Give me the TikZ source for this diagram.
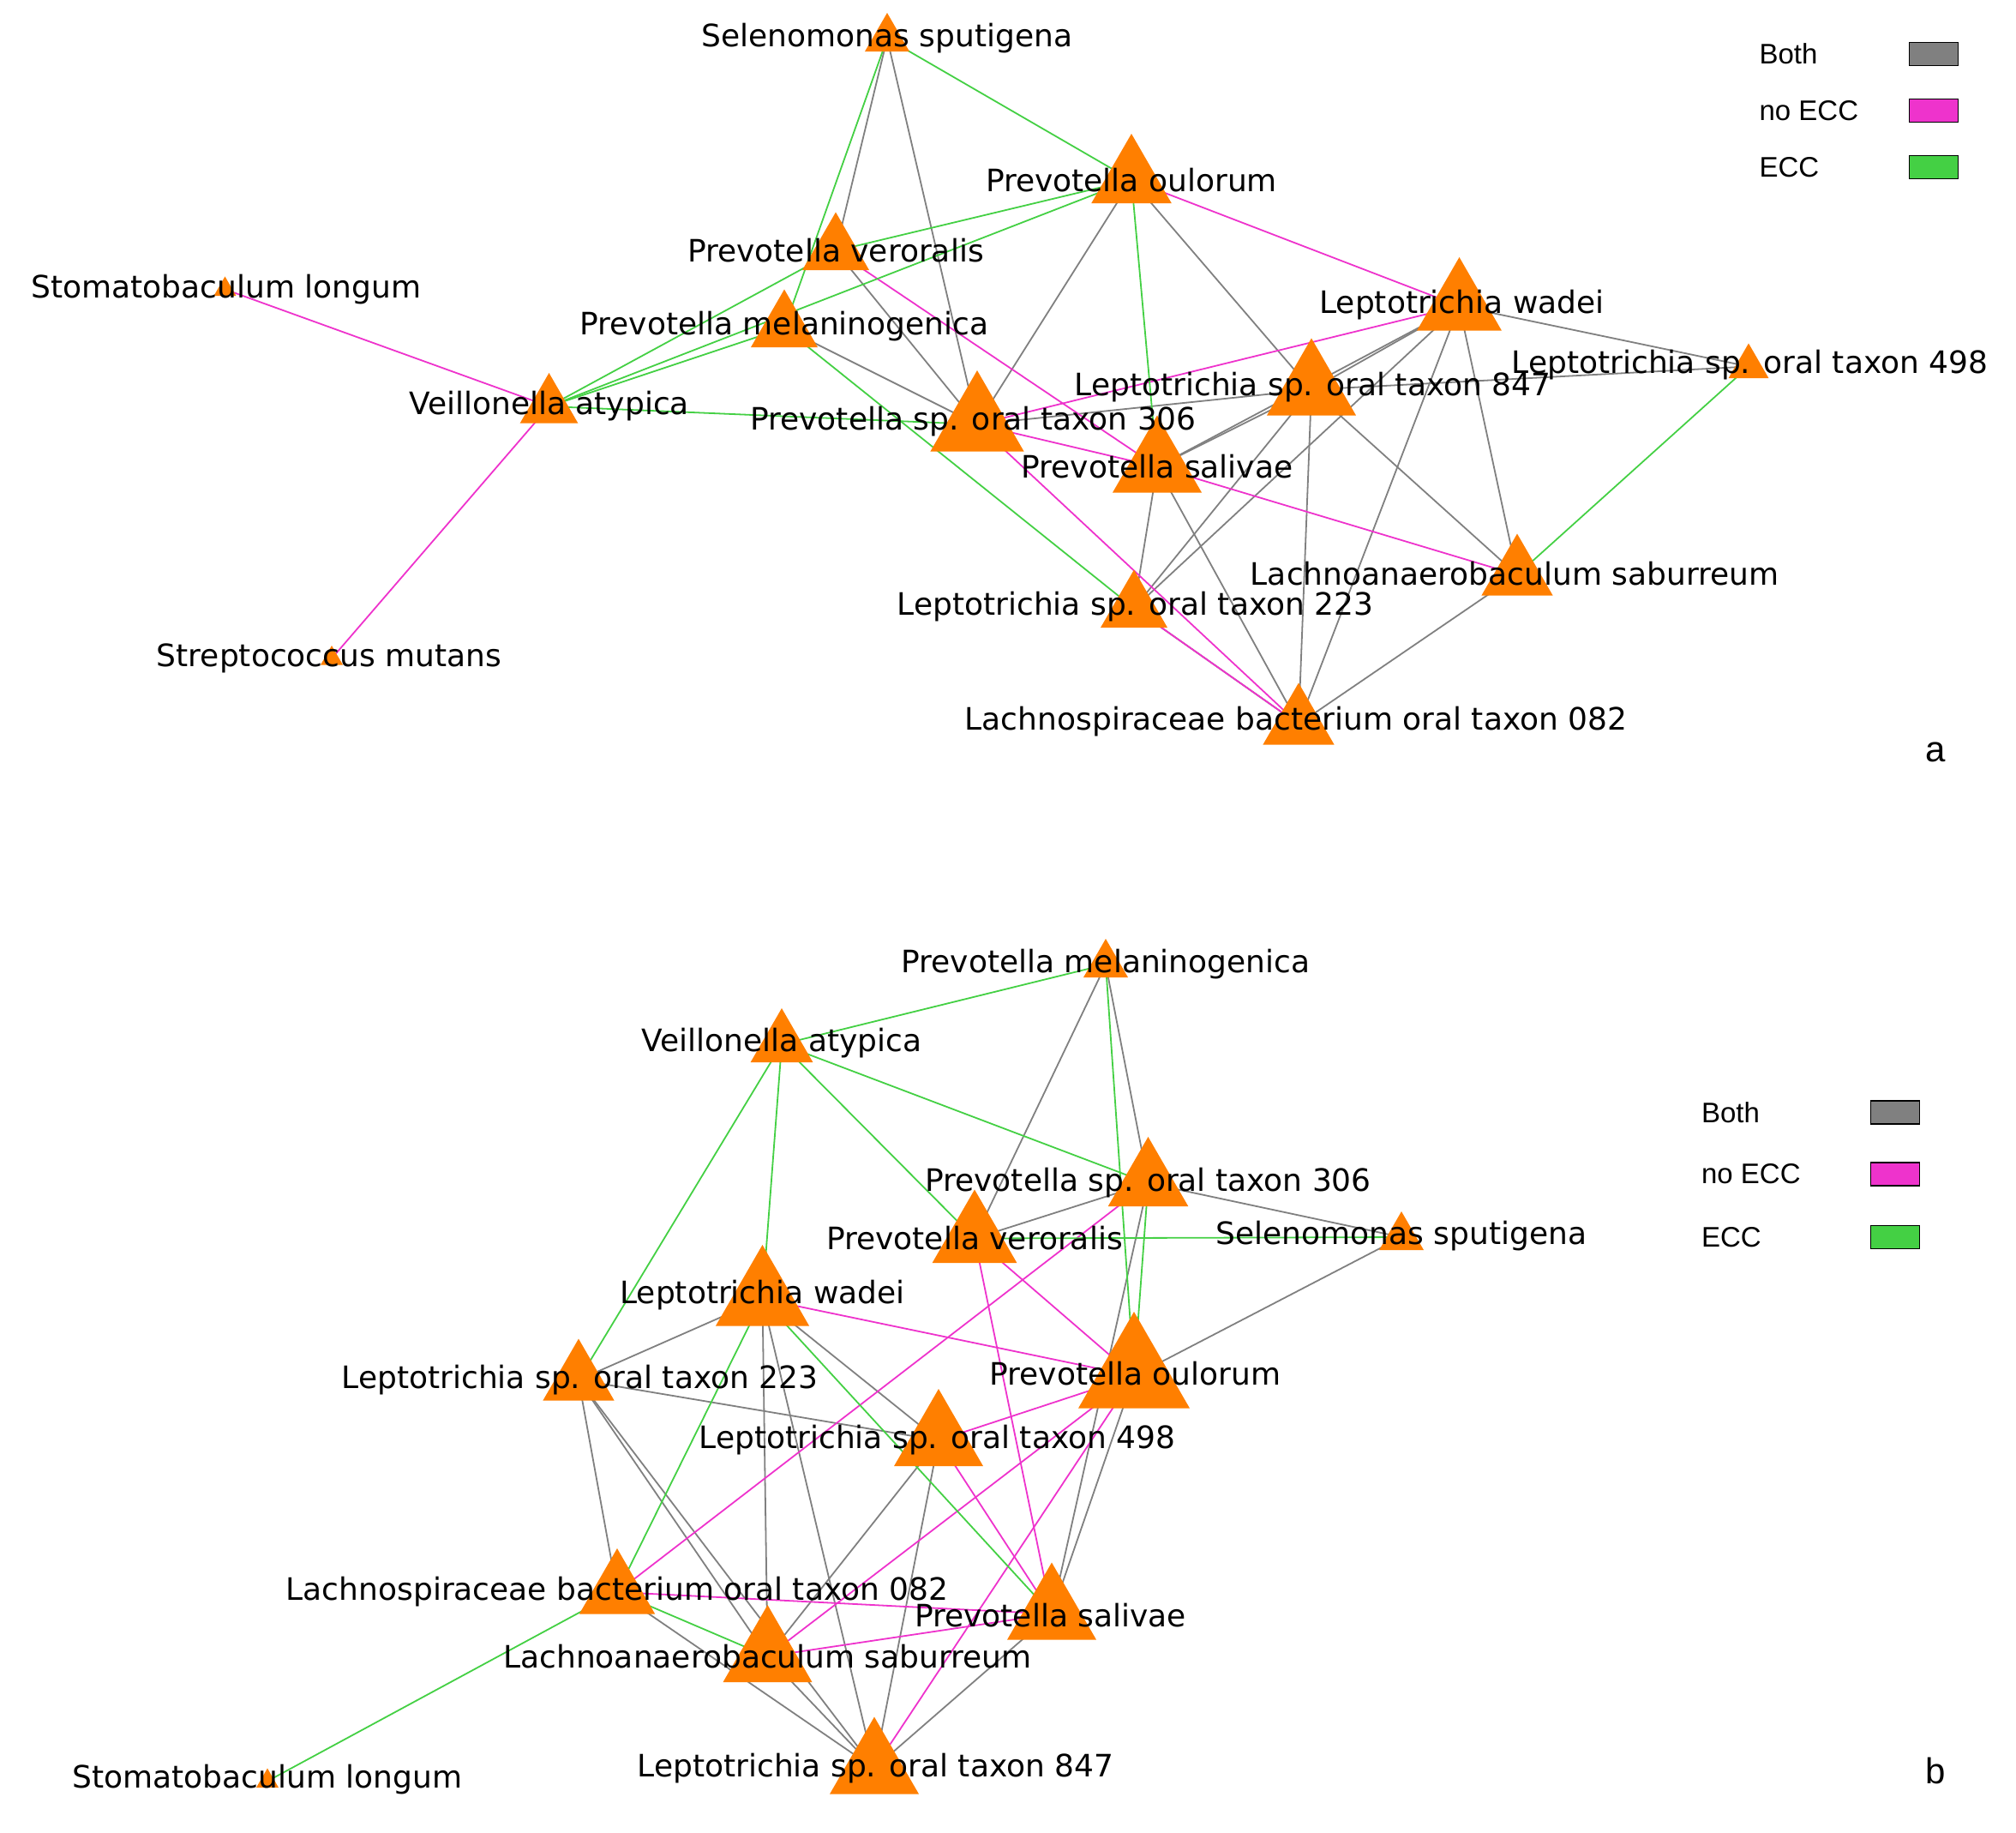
\documentclass[tikz,border=0pt]{standalone}
\usepackage{fontspec}
\setmainfont{DejaVu Sans}
\newfontfamily\legfont{Liberation Sans}
\usetikzlibrary{shapes.geometric}
\definecolor{eg}{HTML}{808080}
\definecolor{em}{HTML}{EE33CC}
\definecolor{ec}{HTML}{44D044}
\definecolor{tri}{HTML}{FF7F00}
\begin{document}
\begin{tikzpicture}[x=0.5pt,y=-0.5pt,
  gr/.style={draw=eg,line width=0.6pt},
  mg/.style={draw=em,line width=0.6pt},
  gn/.style={draw=ec,line width=0.6pt},
  tr/.style={regular polygon,regular polygon sides=3,fill=tri,inner sep=0pt,minimum size=#1},
  lab/.style={font=\fontsize{12}{14}\selectfont,inner sep=0pt},
  leg/.style={font=\legfont\fontsize{11}{13}\selectfont,anchor=west,inner sep=0pt},
  lbox/.style={draw=black,line width=0.5pt,minimum width=19pt,minimum height=9pt,inner sep=0pt}]
\useasboundingbox (0,0) rectangle (1568,1425);
% panel a coordinates
\coordinate (aSel) at (690,30);
\coordinate (aPoul) at (880,140);
\coordinate (aPver) at (650,195);
\coordinate (aPmel) at (610,255);
\coordinate (aSl) at (175,225);
\coordinate (aVa) at (427,316);
\coordinate (aP306) at (760,330);
\coordinate (aLw) at (1135,238);
\coordinate (aL498) at (1360,285);
\coordinate (aL847) at (1020,303);
\coordinate (aPsal) at (900,363);
\coordinate (aLsab) at (1180,447);
\coordinate (aL223) at (882,473);
\coordinate (aL082) at (1010,563);
\coordinate (aSm) at (258,512);
% panel b coordinates
\coordinate (bPmel) at (860,750);
\coordinate (bVa) at (608,812);
\coordinate (bP306) at (893,920);
\coordinate (bSel) at (1090,962);
\coordinate (bPver) at (758,963);
\coordinate (bLw) at (593,1010);
\coordinate (bPoul) at (882,1070);
\coordinate (bL223) at (450,1073);
\coordinate (bL498) at (730,1120);
\coordinate (bL082) at (480,1238);
\coordinate (bPsal) at (818,1255);
\coordinate (bLsab) at (597,1288);
\coordinate (bL847) at (680,1375);
\coordinate (bSl) at (208,1385);
% edges a
\foreach \u/\v in {aSel/aPver,aSel/aP306,aPoul/aP306,aPver/aP306,aPmel/aP306,aPoul/aL847,aP306/aL847,aLw/aL498,aLw/aL847,aLw/aPsal,aLw/aLsab,aLw/aL082,aLw/aL223,aL847/aL498,aL847/aPsal,aL847/aLsab,aL847/aL223,aL847/aL082,aPsal/aL223,aL223/aL082,aLsab/aL082,aPsal/aL082}
  \draw[gr] (\u) -- (\v);
\foreach \u/\v in {aSl/aVa,aVa/aSm,aPoul/aLw,aPver/aPsal,aP306/aLw,aP306/aPsal,aP306/aL082,aPsal/aLsab,aL223/aL082}
  \draw[mg] (\u) -- (\v);
\foreach \u/\v in {aSel/aPoul,aSel/aPmel,aPoul/aPver,aPoul/aVa,aPoul/aPsal,aPver/aVa,aPmel/aVa,aPmel/aL223,aVa/aP306,aL498/aLsab}
  \draw[gn] (\u) -- (\v);
% edges b
\foreach \u/\v in {bPmel/bPver,bPmel/bP306,bP306/bPver,bP306/bSel,bP306/bPsal,bSel/bPoul,bLw/bL223,bLw/bL498,bLw/bLsab,bLw/bL847,bL223/bL498,bL223/bL082,bL223/bLsab,bL223/bL847,bPoul/bPsal,bL498/bLsab,bL498/bL847,bL082/bL847,bPsal/bL847,bLsab/bL847}
  \draw[gr] (\u) -- (\v);
\foreach \u/\v in {bP306/bL082,bPver/bPoul,bPver/bPsal,bLw/bPoul,bPoul/bL498,bPoul/bL847,bPoul/bLsab,bL498/bPsal,bL082/bPsal,bPsal/bLsab}
  \draw[mg] (\u) -- (\v);
\foreach \u/\v in {bPmel/bVa,bPmel/bPoul,bVa/bP306,bVa/bPver,bVa/bLw,bVa/bL223,bP306/bPoul,bPver/bSel,bLw/bPsal,bLw/bL082,bL082/bLsab,bL082/bSl}
  \draw[gn] (\u) -- (\v);
% triangles a
\foreach \n/\s in {aSel/20,aPoul/36,aPver/30,aPmel/30,aSl/10,aVa/26,aP306/42,aLw/38,aL498/18,aL847/40,aPsal/40,aLsab/32,aL223/30,aL082/32,aSm/10}
  \node[tr=\s pt] (t\n) at (\n) {};
\foreach \n/\s in {bPmel/20,bVa/28,bP306/36,bSel/20,bPver/38,bLw/42,bPoul/50,bL223/32,bL498/40,bL082/34,bPsal/40,bLsab/40,bL847/40,bSl/10}
  \node[tr=\s pt] (t\n) at (\n) {};
% labels a
\node[lab] (laSel) at (690,30) {Selenomonas sputigena};
\node[lab] (laPoul) at (880,140) {Prevotella oulorum};
\node[lab] (laPver) at (650,195) {Prevotella veroralis};
\node[lab] (laPmel) at (610,254) {Prevotella melaninogenica};
\node[lab] (laSl) at (176,225) {Stomatobaculum longum};
\node[lab] (laVa) at (427,316) {Veillonella atypica};
\node[lab] (laP306) at (757,328) {Prevotella sp. oral taxon 306};
\node[lab] (laLw) at (1137,237) {Leptotrichia wadei};
\node[lab] (laL498) at (1361,284) {Leptotrichia sp. oral taxon 498};
\node[lab] (laL847) at (1021,301) {Leptotrichia sp. oral taxon 847};
\node[lab] (laPsal) at (900,363) {Prevotella salivae};
\node[lab] (laLsab) at (1178,446) {Lachnoanaerobaculum saburreum};
\node[lab] (laL223) at (883,472) {Leptotrichia sp. oral taxon 223};
\node[lab] (laL082) at (1008,561) {Lachnospiraceae bacterium oral taxon 082};
\node[lab] (laSm) at (256,512) {Streptococcus mutans};
% labels b
\node[lab] (lbPmel) at (860,750) {Prevotella melaninogenica};
\node[lab] (lbVa) at (608,811) {Veillonella atypica};
\node[lab] (lbP306) at (893,920) {Prevotella sp. oral taxon 306};
\node[lab] (lbSel) at (1090,961) {Selenomonas sputigena};
\node[lab] (lbPver) at (758,963) {Prevotella veroralis};
\node[lab] (lbLw) at (593,1007) {Leptotrichia wadei};
\node[lab] (lbPoul) at (883,1068) {Prevotella oulorum};
\node[lab] (lbL223) at (451,1073) {Leptotrichia sp. oral taxon 223};
\node[lab] (lbL498) at (729,1120) {Leptotrichia sp. oral taxon 498};
\node[lab] (lbL082) at (480,1238) {Lachnospiraceae bacterium oral taxon 082};
\node[lab] (lbPsal) at (817,1256) {Prevotella salivae};
\node[lab] (lbLsab) at (597,1288) {Lachnoanaerobaculum saburreum};
\node[lab] (lbL847) at (681,1375) {Leptotrichia sp. oral taxon 847};
\node[lab] (lbSl) at (208,1384) {Stomatobaculum longum};
% legends
\node[leg] (la1) at (1368,42) {Both};
\node[leg] (la2) at (1368,86) {no ECC};
\node[leg] (la3) at (1368,130) {ECC};
\node[lbox,fill=eg] (ba1) at (1504,42) {};
\node[lbox,fill=em] (ba2) at (1504,86) {};
\node[lbox,fill=ec] (ba3) at (1504,130) {};
\node[leg] (lb1) at (1323,865) {Both};
\node[leg] (lb2) at (1323,913) {no ECC};
\node[leg] (lb3) at (1323,962) {ECC};
\node[lbox,fill=eg] (bb1) at (1474,865) {};
\node[lbox,fill=em] (bb2) at (1474,913) {};
\node[lbox,fill=ec] (bb3) at (1474,962) {};
\node[leg,font=\legfont\fontsize{14}{16}\selectfont] (pa) at (1497,585) {a};
\node[leg,font=\legfont\fontsize{14}{16}\selectfont] (pb) at (1497,1377) {b};
\end{tikzpicture}
\end{document}
